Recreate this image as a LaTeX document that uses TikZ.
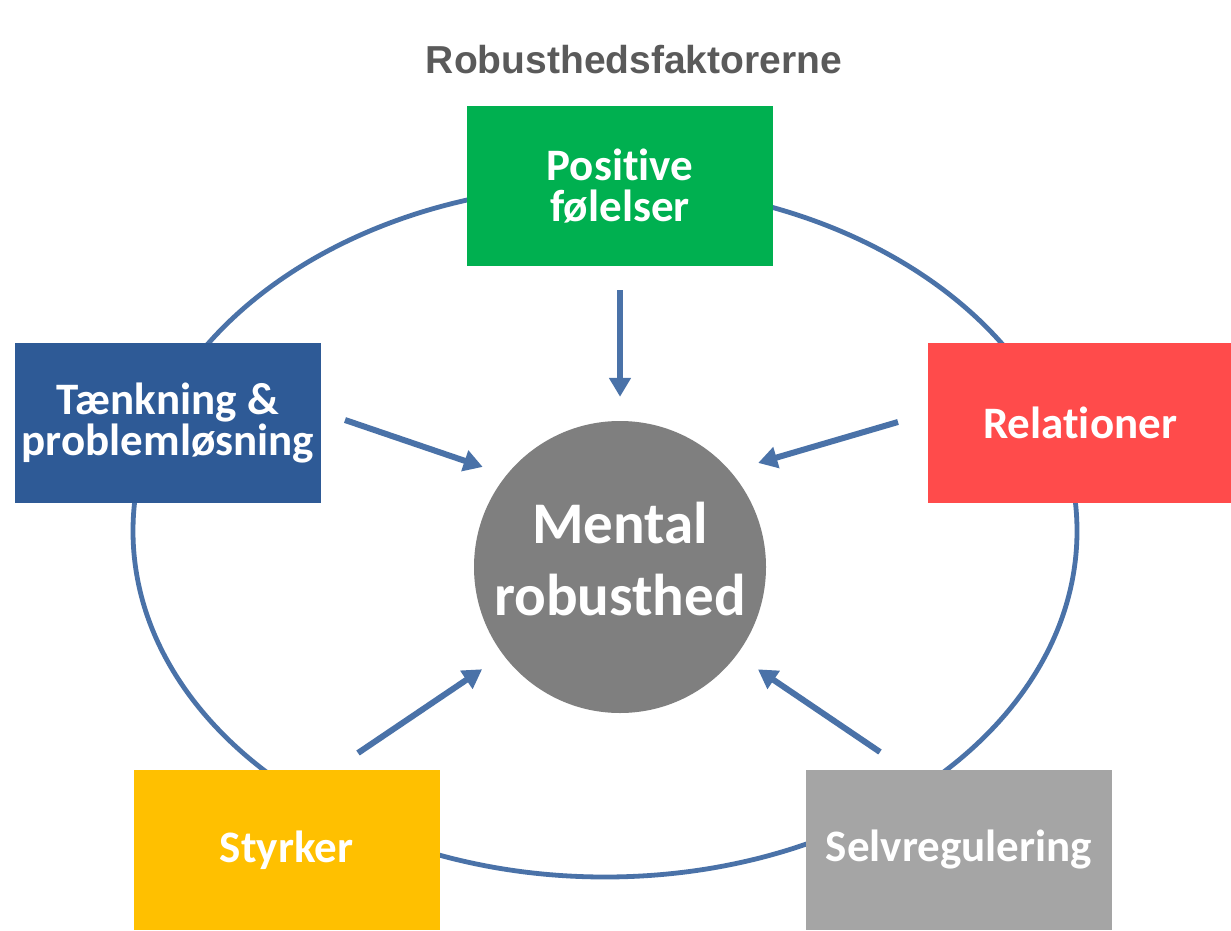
\documentclass[tikz,border=0pt]{standalone}
\usepackage{fontspec}
\setmainfont{Carlito}[Ligatures=NoCommon]
\newfontfamily\titlefont{Liberation Sans}
\usetikzlibrary{arrows.meta,shapes.geometric}
\definecolor{cline}{RGB}{74,114,168}
\definecolor{cgreen}{RGB}{0,176,80}
\definecolor{cblue}{RGB}{46,90,150}
\definecolor{cred}{RGB}{255,75,75}
\definecolor{cyellow}{RGB}{255,192,0}
\definecolor{cgray}{RGB}{165,165,165}
\definecolor{ccirc}{RGB}{127,127,127}
\definecolor{ctitle}{RGB}{90,90,90}
\begin{document}
\begin{tikzpicture}[x=1pt,y=-1pt,
  box/.style={rectangle, minimum width=306pt, minimum height=160pt, inner sep=0pt,
    text=white, align=center, font=\fontsize{45}{41}\selectfont\bfseries},
  arr/.style={draw=cline, line width=6pt, -{Triangle[length=19pt,width=21pt]}},
  ring/.style={draw=cline, line width=4.8pt}]
\useasboundingbox (0,0) rectangle (1231,931);
\fill[white] (0,0) rectangle (1231,931);
\node[font=\titlefont\fontsize{39}{42}\selectfont\bfseries, text=ctitle, anchor=base] (title) at (634,74) {Robusthedsfaktorerne};
\draw[ring] (605,531) ellipse [x radius=472, y radius=346];
\node[box, fill=cgreen] (pos) at (620,186) {Positive\\følelser};
\node[box, fill=cblue] (tae) at (168,423) {Tænkning \&\\problemløsning};
\node[box, fill=cred, minimum width=304pt] (rel) at (1080,423) {Relationer};
\node[box, fill=cyellow] (sty) at (286.5,850) {Styrker};
\node[box, fill=cgray] (sel) at (959,850) {Selvregulering};
\node[circle, fill=ccirc, minimum size=292pt, inner sep=0pt, text=white, align=center,
  text depth=16pt, font=\fontsize{59}{72}\selectfont\bfseries] (mr) at (620,567) {Mental\\robusthed};
\coordinate (ta) at (345,420);
\coordinate (tr) at (898,422);
\coordinate (ty) at (358,753);
\coordinate (tg) at (880,752);
\draw[arr, shorten <=24pt, shorten >=24pt] (pos) -- (mr);
\draw[arr, shorten >=25pt] (ta) -- (mr.141);
\draw[arr, shorten >=29pt] (tr) -- (mr.41.7);
\draw[arr, shorten >=25.5pt] (ty) -- (mr.217.5);
\draw[arr, shorten >=25.6pt] (tg) -- (mr.323.1);
\end{tikzpicture}
\end{document}
